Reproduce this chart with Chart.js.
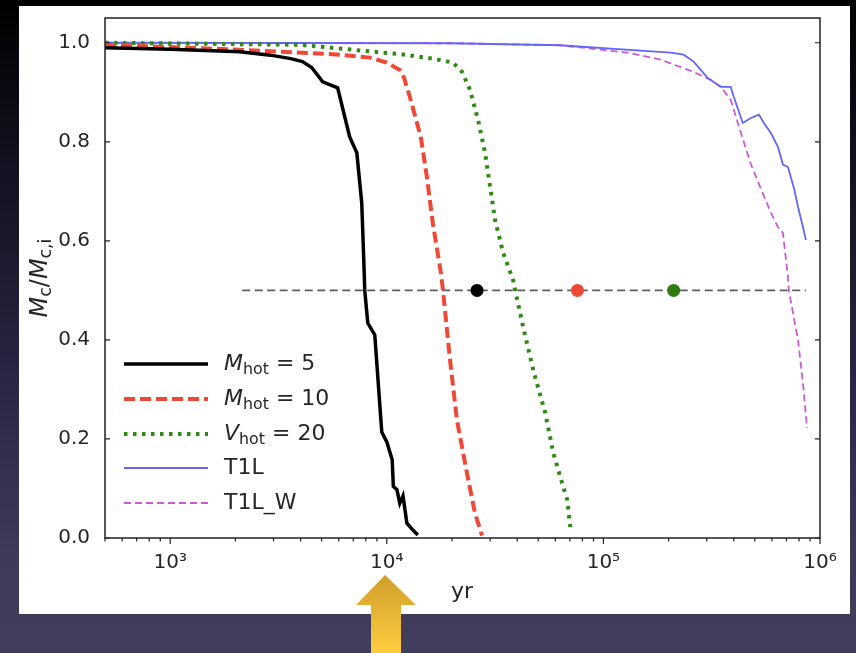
<!DOCTYPE html>
<html>
<head>
<meta charset="utf-8">
<script src="https://cdn.jsdelivr.net/npm/chart.js@4.4.1/dist/chart.umd.min.js"></script>
<style>
  html, body { margin: 0; padding: 0; }
  body {
    width: 856px; height: 653px; overflow: hidden; position: relative;
    background: linear-gradient(to bottom, #000 0%, #121120 25%, #2a2843 60%, #3d3b58 85%, #403e5c 100%);
  }
  #panel { position: absolute; left: 19px; top: 6px; width: 831px; height: 608px; background: #fff; }
  #arrow { position: absolute; left: 0; top: 0; }
</style>
</head>
<body>
<div id="panel"><canvas id="myChart1" width="831" height="608"></canvas></div>
<svg id="arrow" width="856" height="653">
  <defs>
    <linearGradient id="gold" x1="0" y1="0" x2="0" y2="1">
      <stop offset="0" stop-color="#cf9f2a"/>
      <stop offset="1" stop-color="#ffcd40"/>
    </linearGradient>
  </defs>
  <polygon points="385,575 416,605 401,605 401,653 371,653 371,605 356,605" fill="url(#gold)"/>
</svg>
<script>
// tick values and labels
var xTickValues = [1e3, 1e4, 1e5, 1e6];
var xTickLabels = ['10³', '10⁴', '10⁵', '10⁶'];
var yTickValues = [0, 0.2, 0.4, 0.6, 0.8, 1.0];
var yTickLabels = ['0.0', '0.2', '0.4', '0.6', '0.8', '1.0'];

// M_hot = 5
var blackX = [500, 1000, 2090, 2900, 3600, 4080, 4500, 5060, 5930, 6740, 7270, 7660, 7830, 7910, 8170, 8800, 9480, 10000, 10590, 10720, 11130, 11480, 11880, 12380, 13200, 13910];
var blackY = [0.99, 0.987, 0.982, 0.975, 0.968, 0.962, 0.95, 0.921, 0.909, 0.81, 0.778, 0.677, 0.56, 0.50, 0.434, 0.41, 0.214, 0.194, 0.158, 0.104, 0.098, 0.07, 0.085, 0.03, 0.016, 0.006];
// M_hot = 10
var redX = [500, 2090, 6060, 8340, 10000, 11480, 12000, 12770, 14350, 15300, 16320, 17780, 18170, 19580, 21080, 23450, 25540, 27520];
var redY = [0.996, 0.986, 0.976, 0.97, 0.96, 0.945, 0.93, 0.891, 0.81, 0.73, 0.635, 0.535, 0.50, 0.36, 0.238, 0.131, 0.05, 0.005];
// V_hot = 20
var greenX = [500, 3950, 12110, 16320, 20210, 22250, 24220, 26380, 28420, 29990, 31620, 34430, 38290, 39150, 42630, 47430, 53860, 58680, 65280, 68110, 70320];
var greenY = [1.0, 0.996, 0.976, 0.968, 0.96, 0.941, 0.905, 0.844, 0.778, 0.709, 0.642, 0.576, 0.521, 0.50, 0.426, 0.339, 0.253, 0.172, 0.103, 0.077, 0.022];
// T1L
var blueX = [500, 20000, 63000, 148000, 204400, 234600, 261000, 302900, 348100, 387000, 399700, 440100, 479500, 522300, 550800, 593000, 639000, 674300, 711300, 758600, 791300, 834100, 861000];
var blueY = [1.0, 0.999, 0.995, 0.984, 0.98, 0.976, 0.962, 0.929, 0.911, 0.911, 0.891, 0.838, 0.848, 0.855, 0.838, 0.818, 0.79, 0.754, 0.749, 0.706, 0.669, 0.628, 0.602];
// T1L_W
var magX = [500, 20000, 63000, 129100, 183500, 261000, 312600, 348100, 387000, 430200, 479500, 533800, 593000, 639000, 674300, 711300, 718100, 791300, 834100, 871000];
var magY = [1.0, 0.999, 0.995, 0.98, 0.966, 0.941, 0.925, 0.911, 0.885, 0.82, 0.755, 0.705, 0.657, 0.628, 0.616, 0.527, 0.50, 0.40, 0.313, 0.222];

// half-mass reference line and markers
var refX = [2150, 860000];
var refY = [0.5, 0.5];
var dotX = [26100, 75900, 211000];
var dotY = [0.5, 0.5, 0.5];
var dotColors = ['#000000', '#ef4836', '#2f7d12'];

var seriesLabels = ['Mhot = 5', 'Mhot = 10', 'Vhot = 20', 'T1L', 'T1L_W'];
var legendParts = [
    [['M', 'i'], ['hot', 's'], [' = 5', '']],
    [['M', 'i'], ['hot', 's'], [' = 10', '']],
    [['V', 'i'], ['hot', 's'], [' = 20', '']],
    [['T1L', '']],
    [['T1L_W', '']]
];

function pts(xs, ys) {
    var out = [];
    for (var n = 0; n < xs.length; n++) {
        out.push({ x: xs[n], y: ys[n] });
    }
    return out;
}

var FONT = '"DejaVu Sans"';
var TXT = '#262626';

function drawRich(ctx, parts, x, y, size) {
    var cx = x;
    parts.forEach(function (p) {
        var fs = p[1] === 's' ? size * 0.72 : size;
        ctx.font = (p[1] === 'i' ? 'italic ' : '') + fs + 'px ' + FONT;
        var dy = p[1] === 's' ? size * 0.25 : 0;
        ctx.fillText(p[0], cx, y + dy);
        cx += ctx.measureText(p[0]).width;
    });
    return cx - x;
}

function richWidth(ctx, parts, size) {
    var w = 0;
    parts.forEach(function (p) {
        var fs = p[1] === 's' ? size * 0.72 : size;
        ctx.font = (p[1] === 'i' ? 'italic ' : '') + fs + 'px ' + FONT;
        w += ctx.measureText(p[0]).width;
    });
    return w;
}

var decor = {
    id: 'decor',
    afterDraw: function (chart) {
        var ctx = chart.ctx, a = chart.chartArea;
        var xs = chart.scales.x, ys = chart.scales.y;
        ctx.save();
        ctx.strokeStyle = '#222';
        ctx.lineWidth = 1.5;
        ctx.strokeRect(a.left, a.top, a.right - a.left, a.bottom - a.top);

        ctx.lineWidth = 1.2;
        ctx.beginPath();
        yTickValues.forEach(function (v) {
            var py = ys.getPixelForValue(v);
            ctx.moveTo(a.left, py); ctx.lineTo(a.left + 5, py);
            ctx.moveTo(a.right, py); ctx.lineTo(a.right - 5, py);
        });
        // major and minor ticks on the log axis
        for (var e = 2; e <= 5; e++) {
            for (var m = 1; m <= 9; m++) {
                var v = m * Math.pow(10, e);
                if (v < xs.min || v > xs.max) continue;
                var px = xs.getPixelForValue(v);
                ctx.moveTo(px, a.bottom); ctx.lineTo(px, a.bottom + (m === 1 ? 6 : 3.5));
            }
        }
        var p6 = xs.getPixelForValue(1e6);
        ctx.moveTo(p6, a.bottom); ctx.lineTo(p6, a.bottom + 6);
        ctx.stroke();

        // legend
        var legY = [358, 393, 428, 462, 497];
        ctx.textBaseline = 'middle';
        ctx.fillStyle = TXT;
        for (var i = 0; i < 5; i++) {
            var ds = chart.data.datasets[i + 1];
            ctx.save();
            ctx.strokeStyle = ds.borderColor;
            ctx.lineWidth = ds.borderWidth;
            ctx.setLineDash(ds.borderDash || []);
            ctx.beginPath();
            ctx.moveTo(105, legY[i]); ctx.lineTo(189, legY[i]);
            ctx.stroke();
            ctx.restore();
            drawRich(ctx, legendParts[i], 205, legY[i], 22);
        }

        // axis titles
        ctx.textAlign = 'center';
        ctx.font = '22px ' + FONT;
        ctx.fillText('yr', 443, 586);

        var yTitle = [['M', 'i'], ['c', 's'], ['/', ''], ['M', 'i'], ['c,i', 's']];
        ctx.textAlign = 'left';
        ctx.translate(22, 272);
        ctx.rotate(-Math.PI / 2);
        var w = richWidth(ctx, yTitle, 24);
        drawRich(ctx, yTitle, -w / 2, 0, 24);
        ctx.restore();
    }
};

function noPad(s) {
    s.paddingTop = 0; s.paddingBottom = 0;
    s.paddingLeft = 0; s.paddingRight = 0;
}

var ctx = document.getElementById('myChart1').getContext('2d');
var thisChart = new Chart(ctx, {
    type: 'line',
    data: {
        datasets: [{
            label: 'half mass',
            data: pts(dotX, dotY),
            showLine: false,
            pointRadius: 6.5,
            pointBackgroundColor: dotColors,
            pointBorderWidth: 0
        }, {
            label: seriesLabels[0],
            data: pts(blackX, blackY),
            borderColor: '#000000',
            borderWidth: 3.5
        }, {
            label: seriesLabels[1],
            data: pts(redX, redY),
            borderColor: '#ef4836',
            borderWidth: 4,
            borderDash: [11, 5]
        }, {
            label: seriesLabels[2],
            data: pts(greenX, greenY),
            borderColor: '#2f8a14',
            borderWidth: 4,
            borderDash: [3.5, 5.5]
        }, {
            label: seriesLabels[3],
            data: pts(blueX, blueY),
            borderColor: '#6464ff',
            borderWidth: 1.8
        }, {
            label: seriesLabels[4],
            data: pts(magX, magY),
            borderColor: '#cc5ad6',
            borderWidth: 1.8,
            borderDash: [7, 4]
        }, {
            label: 'ref',
            data: pts(refX, refY),
            borderColor: 'rgba(40,40,40,0.75)',
            borderWidth: 1.6,
            borderDash: [8, 4.5]
        }]
    },
    options: {
        responsive: false,
        animation: false,
        layout: { padding: { top: 12, right: 30, left: 0, bottom: 0 } },
        elements: { point: { radius: 0 }, line: { tension: 0 } },
        plugins: { legend: { display: false }, tooltip: { enabled: false } },
        scales: {
            x: {
                type: 'logarithmic',
                min: 500,
                max: 1e6,
                afterBuildTicks: function (s) {
                    s.ticks = xTickValues.map(function (v) { return { value: v }; });
                },
                afterFit: function (s) { s.height = 76; noPad(s); },
                grid: { display: false },
                border: { display: false },
                ticks: {
                    autoSkip: false,
                    maxRotation: 0,
                    padding: 5,
                    color: TXT,
                    font: { size: 20, family: 'DejaVu Sans' },
                    callback: function (v, i) { return xTickLabels[i]; }
                }
            },
            y: {
                min: 0,
                max: 1.05,
                afterBuildTicks: function (s) {
                    s.ticks = yTickValues.map(function (v) { return { value: v }; });
                },
                afterFit: function (s) { s.width = 86; noPad(s); },
                grid: { display: false },
                border: { display: false },
                ticks: {
                    padding: 7,
                    color: TXT,
                    font: { size: 20, family: 'DejaVu Sans' },
                    callback: function (v, i) { return yTickLabels[i]; }
                }
            }
        }
    },
    plugins: [decor]
});
</script>
</body>
</html>
